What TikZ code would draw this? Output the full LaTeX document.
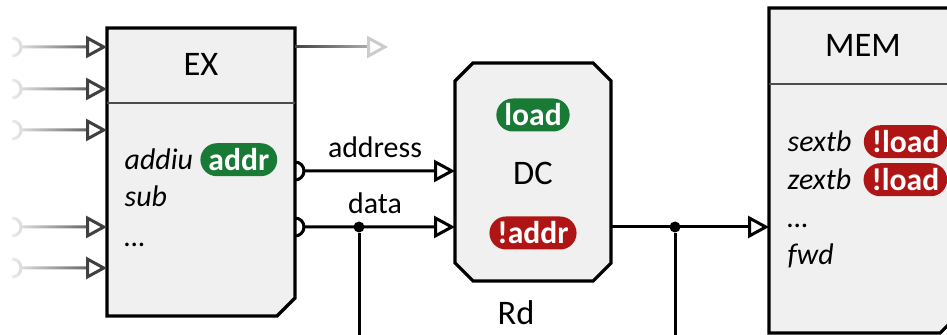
\documentclass[tikz,border=0pt]{standalone}
\usepackage{fontspec}
\setmainfont{Carlito}
\usetikzlibrary{arrows.meta,positioning,fadings}

\definecolor{stagefill}{HTML}{F0F0F0}
\definecolor{okgreen}{HTML}{197A35}
\definecolor{badred}{HTML}{B01515}
\definecolor{feedgray}{HTML}{404040}

\tikzfading[name=fade in, left color=transparent!92, right color=transparent!0]
\tikzfading[name=fade out, left color=transparent!0, right color=transparent!100]

\tikzset{
  stage/.style={draw=black, fill=stagefill, line width=0.32mm},
  divider/.style={draw=black!70, line width=0.12mm},
  title/.style={font=\fontsize{9.8}{12}\selectfont},
  instr/.style={font=\fontsize{8.5}{10}\selectfont\itshape, inner sep=0pt, anchor=base west},
  lbl/.style={font=\fontsize{8.5}{10}\selectfont},
  pill/.style={fill=#1, text=white, font=\fontsize{9}{10}\selectfont\bfseries,
    rounded corners=1.65mm, inner xsep=0.8mm, inner ysep=0pt, minimum height=3.3mm},
  wire/.style={draw=black, line width=0.3mm},
  opentip/.style={-{Triangle[open, length=2.1mm, width=2.2mm]}},
  feed/.style={draw=feedgray, line width=0.3mm, path fading=fade in},
  dot/.style={circle, fill=black, inner sep=0pt, minimum size=1.1mm},
}

\begin{document}
\begin{tikzpicture}[x=0.1mm, y=0.1mm]
\useasboundingbox (0,0) rectangle (947,335);
\clip (0,0) rectangle (947,335);

% EX stage
\draw[stage] (107,307) -- (295,307) -- (295,37) -- (277,19) -- (107,19) -- cycle;
\draw[divider] (107,232) -- (295,232);
\node[title] (ex) at (201,271) {EX};
\node[instr] (addiu) at (124,165) {addiu};
\node[pill=okgreen, right=0.6mm of addiu] (addr) {addr};
\node[instr] (sub) at (124,128) {sub};
\node[instr] (exmore) at (124,88) {\dots};

% faded inputs into EX
\foreach \y/\n in {288/a,246/b,205/c,108/d,67/e} {
  \coordinate (in-\n) at (107,\y);
  \draw[feed, shorten >=2.1mm] (12,{\y+9}) arc (90:-90:9) (21,\y) -- (in-\n);
  \draw[draw=feedgray, line width=0.3mm, opentip] (86,\y) -- (in-\n);
}

% faint output on top
\coordinate (ex-out) at (295,288);
\coordinate (ex-out-end) at (388,288);
\draw[draw=black!20, line width=0.3mm, opentip] (ex-out) -- (ex-out-end);
\draw[draw=feedgray, line width=0.3mm, path fading=fade out, shorten >=2.1mm] (ex-out) -- (ex-out-end);

% DC stage
\draw[stage] (473,272) -- (593,272) -- (611,254) -- (611,72) -- (593,54)
  -- (473,54) -- (455,72) -- (455,254) -- cycle;
\node[pill=okgreen] (load) at (533,220) {load};
\node[title] (dc) at (533,162) {DC};
\node[pill=badred] (naddr) at (533,102) {!addr};
\node[title] (rd) at (516,22) {Rd};

% MEM stage
\draw[stage] (769,327) -- (958,327) -- (958,20) -- (940,2) -- (769,2) -- cycle;
\draw[divider] (769,251) -- (958,251);
\node[title] (mem) at (863,290) {MEM};
\node[instr] (sextb) at (787,183) {sextb};
\node[pill=badred, right=1.1mm of sextb] (nload1) {!load};
\node[instr] (zextb) at (787,145) {zextb};
\node[pill=badred, right=1.1mm of zextb] (nload2) {!load};
\node[instr] (memmore) at (787,107) {\dots};
\node[instr] (fwd) at (787,70) {fwd};

% ports
\coordinate (ex-addr) at (295,164);
\coordinate (ex-data) at (295,108);
\coordinate (dc-addr) at (455,164);
\coordinate (dc-data) at (455,108);
\coordinate (dc-out) at (611,108);
\coordinate (mem-in) at (769,108);

% EX -> DC
\draw[wire] (ex-addr) ++(0,-9) arc (-90:0:9);
\draw[wire, opentip] (ex-addr) ++(0,9) arc (90:0:9)
  -- node[lbl, above, pos=0.47] (addresslbl) {address} (dc-addr);
\draw[wire] (ex-data) ++(0,-9) arc (-90:0:9);
\draw[wire, opentip] (ex-data) ++(0,9) arc (90:0:9)
  -- node[lbl, above, pos=0.47] (datalbl) {data} (dc-data);

% DC -> MEM
\draw[wire, opentip] (dc-out) -- (mem-in);

% taps going down
\node[dot] (tap1) at (359,108) {};
\node[dot] (tap2) at (675,108) {};
\draw[wire] (tap1) -- (tap1 |- 0,-20);
\draw[wire] (tap2) -- (tap2 |- 0,-20);

\end{tikzpicture}
\end{document}
